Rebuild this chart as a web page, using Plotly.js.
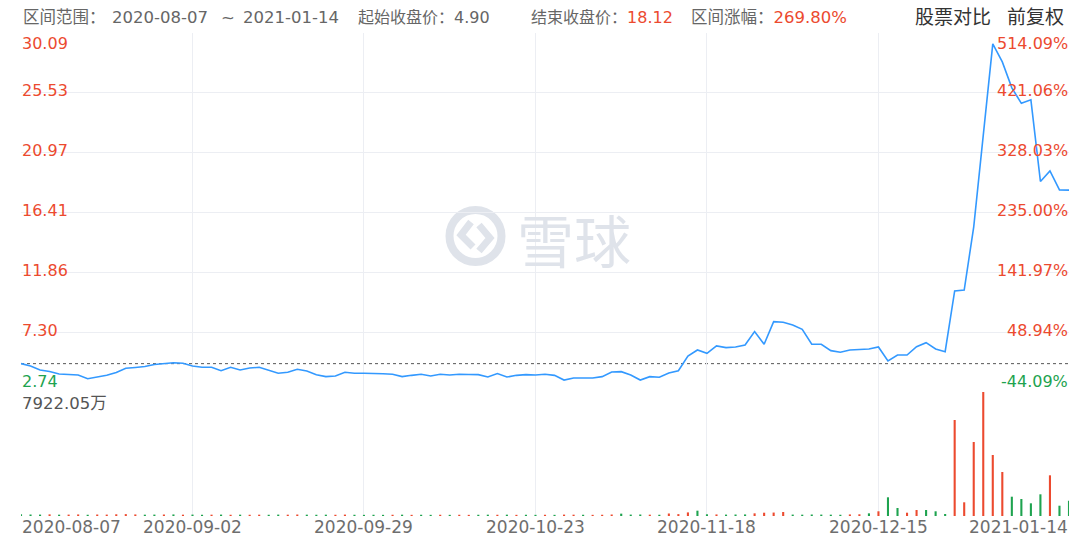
<!DOCTYPE html>
<html><head><meta charset="utf-8">
<script src="https://cdn.plot.ly/plotly-3.0.1.min.js"></script>
<style>html,body{margin:0;padding:0;background:#fff;}#chart{width:1080px;height:548px;}</style>
</head><body><div id="chart"></div>
<script>
const dates = [
'2020-08-07','2020-08-10','2020-08-11','2020-08-12','2020-08-13','2020-08-14','2020-08-17','2020-08-18','2020-08-19','2020-08-20','2020-08-21','2020-08-24','2020-08-25','2020-08-26','2020-08-27','2020-08-28','2020-08-31',
'2020-09-01','2020-09-02','2020-09-03','2020-09-04','2020-09-08','2020-09-09','2020-09-10','2020-09-11','2020-09-14','2020-09-15','2020-09-16','2020-09-17','2020-09-18','2020-09-21','2020-09-22','2020-09-23','2020-09-24','2020-09-25','2020-09-28','2020-09-29','2020-09-30',
'2020-10-01','2020-10-02','2020-10-05','2020-10-06','2020-10-07','2020-10-08','2020-10-09','2020-10-12','2020-10-13','2020-10-14','2020-10-15','2020-10-16','2020-10-19','2020-10-20','2020-10-21','2020-10-22','2020-10-23','2020-10-26','2020-10-27','2020-10-28','2020-10-29','2020-10-30',
'2020-11-02','2020-11-03','2020-11-04','2020-11-05','2020-11-06','2020-11-09','2020-11-10','2020-11-11','2020-11-12','2020-11-13','2020-11-16','2020-11-17','2020-11-18','2020-11-19','2020-11-20','2020-11-23','2020-11-24','2020-11-25','2020-11-27','2020-11-30',
'2020-12-01','2020-12-02','2020-12-03','2020-12-04','2020-12-07','2020-12-08','2020-12-09','2020-12-10','2020-12-11','2020-12-14','2020-12-15','2020-12-16','2020-12-17','2020-12-18','2020-12-21','2020-12-22','2020-12-23','2020-12-24','2020-12-28','2020-12-29','2020-12-30','2020-12-31',
'2021-01-04','2021-01-05','2021-01-06','2021-01-07','2021-01-08','2021-01-11','2021-01-12','2021-01-13','2021-01-14'];

const closePrices = [
4.90,4.72,4.42,4.30,4.11,4.07,4.04,3.75,3.88,4.01,
4.23,4.55,4.61,4.68,4.84,4.91,4.97,4.93,4.72,4.62,
4.62,4.36,4.62,4.42,4.57,4.62,4.42,4.17,4.24,4.47,
4.34,4.06,3.91,3.96,4.24,4.17,4.17,4.17,4.13,4.09,
3.91,4.01,4.09,3.96,4.09,4.04,4.09,4.07,4.06,3.88,
4.14,3.88,4.01,4.06,4.04,4.09,4.01,3.65,3.81,3.81,
3.81,3.91,4.26,4.29,4.04,3.65,3.91,3.86,4.19,4.36,
5.48,5.94,5.69,6.25,6.12,6.17,6.32,7.34,6.38,8.10,
8.05,7.85,7.52,6.38,6.38,5.89,5.77,5.94,6.00,6.02,
6.17,5.10,5.56,5.56,6.19,6.50,6.02,5.81,10.44,10.51,
15.32,22.25,29.26,27.89,25.91,24.73,25.00,18.78,19.58,18.14,
18.12];

// volume, in 万
const volumes = [
110,95,90,105,85,90,100,80,95,90,
110,120,100,85,90,95,100,85,90,80,
85,90,80,85,80,85,80,90,85,95,
85,80,85,80,90,80,75,80,75,80,
85,75,80,75,80,75,80,75,80,85,
80,85,75,80,75,80,75,90,85,80,
75,80,95,150,90,95,85,80,160,120,
230,340,110,100,90,95,100,170,210,220,
255,90,85,95,90,85,80,100,110,170,
300,1195,511,211,383,383,300,128,6134,875,
4728,7922.05,3898,2811,1233,1086,811,1386,2600,658,
978];

// 'r' = red bar, 'g' = green bar
const volDir = [
'g','g','g','r','g','r','r','g','r','r',
'r','r','r','g','g','r','g','r','g','g',
'r','g','r','g','r','r','g','g','r','r',
'g','g','g','r','r','g','g','g','g','r',
'g','r','g','g','r','g','r','r','g','g',
'r','g','r','g','g','r','g','r','r','g',
'r','r','r','g','g','g','r','g','r','r',
'r','g','g','r','g','g','g','r','r','r',
'r','g','g','g','g','g','g','r','r','g',
'r','g','g','r','r','g','g','g','r','r',
'r','r','r','r','g','g','g','g','r','g',
'g'];

const priceTickLabels = ['2.74','7.30','11.86','16.41','20.97','25.53','30.09'];
const pctTickLabels = ['-44.09%','48.94%','141.97%','235.00%','328.03%','421.06%','514.09%'];
const xTickLabels = ['2020-08-07','2020-09-02','2020-09-29','2020-10-23','2020-11-18','2020-12-15','2021-01-14'];
const volMaxLabel = '7922.05万';
const headerRange = '区间范围：';
const headerStart = '起始收盘价：';
const headerEnd = '结束收盘价：';
const headerChg = '区间涨幅：';
const headerRight1 = '股票对比';
const headerRight2 = '前复权';
const watermarkText = '雪球';

// ---- styling / layout ----
const W = 1080, H = 548;
const px = x => x / W;
const py = y => 1 - y / H;
const L = 21, R = 1069, PT = 33, PB = 392, VB = 516;
const RED = '#ec4a2f', GREEN = '#1ea34f', BLUE = '#3399ff', GRID = '#eceef3';
const NUMFONT = '"DejaVu Sans", "Noto Sans CJK SC", sans-serif';
const WM = '#dfe3ea';

const priceTickVals = priceTickLabels.map(Number);
const maxVol = Math.max(...volumes);
const firstClose = closePrices[0];
const lastClose = closePrices[closePrices.length - 1];
const chg = ((lastClose / firstClose - 1) * 100).toFixed(2) + '%';

const traces = [
  {
    type: 'bar', x: dates, y: volumes, xaxis: 'x', yaxis: 'y2',
    marker: {color: volDir.map(d => d === 'r' ? RED : GREEN), line: {width: 0}},
    width: 0.22, hoverinfo: 'skip'
  },
  {
    type: 'scatter', mode: 'lines', x: dates, y: closePrices, xaxis: 'x', yaxis: 'y',
    line: {color: BLUE, width: 1.6}, hoverinfo: 'skip'
  }
];

const annotations = [];
const nT = priceTickLabels.length;
priceTickLabels.forEach((t, k) => {
  const anchor = k === 0 ? 'bottom' : (k === nT - 1 ? 'top' : 'middle');
  const shift = (k === 0 || k === nT - 1) ? 0 : 2;
  const col = k === 0 ? GREEN : RED;
  annotations.push({xref: 'paper', yref: 'y', x: px(L), y: priceTickVals[k], text: t,
    xanchor: 'left', yanchor: anchor, yshift: shift, showarrow: false,
    font: {family: NUMFONT, size: 16, color: col}, borderpad: 0});
  annotations.push({xref: 'paper', yref: 'y', x: px(R), y: priceTickVals[k], text: pctTickLabels[k],
    xanchor: 'right', yanchor: anchor, yshift: shift, showarrow: false,
    font: {family: NUMFONT, size: 16, color: col}, borderpad: 0});
});
annotations.push({xref: 'paper', yref: 'y2', x: px(L), y: maxVol, text: volMaxLabel,
  xanchor: 'left', yanchor: 'top', yshift: -1, showarrow: false,
  font: {family: NUMFONT, size: 16.5, color: '#555'}, borderpad: 0});

xTickLabels.forEach((t, k) => {
  const idx = dates.indexOf(t);
  const anchor = k === 0 ? 'left' : (k === xTickLabels.length - 1 ? 'right' : 'center');
  annotations.push({xref: 'x', yref: 'paper', x: idx, y: py(527), text: t,
    xanchor: anchor, yanchor: 'middle', showarrow: false,
    font: {family: NUMFONT, size: 17, color: '#6e6e6e'}, borderpad: 0});
});

const hdrY = py(17);
const hdrFont = {family: NUMFONT, size: 16.5, color: '#666'};
const hdrFontS = {family: NUMFONT, size: 16, color: '#666'};
const hdr = (x, text, anchor, font) => annotations.push({xref: 'paper', yref: 'paper', x: px(x), y: hdrY,
  xanchor: anchor || 'left', yanchor: 'middle', showarrow: false, text: text, font: font || hdrFont, borderpad: 0});
hdr(22, headerRange);
hdr(111, dates[0]);
hdr(228, '~', 'center');
hdr(340, dates[dates.length - 1], 'right');
hdr(357, headerStart + firstClose.toFixed(2), 'left', hdrFontS);
hdr(530, headerEnd + '<span style="color:' + RED + '">' + lastClose.toFixed(2) + '</span>', 'left', hdrFontS);
hdr(690, headerChg + '<span style="color:' + RED + '">' + chg + '</span>');
hdr(992, headerRight1, 'right', {family: NUMFONT, size: 19, color: '#333'});
hdr(1065, headerRight2, 'right', {family: NUMFONT, size: 19, color: '#333'});

// watermark
annotations.push({xref: 'paper', yref: 'paper', x: px(516), y: py(238), xanchor: 'left', yanchor: 'middle', showarrow: false,
  text: watermarkText, font: {family: '"Noto Sans CJK SC", sans-serif', size: 57, color: WM}, borderpad: 0});

const pp = (pts) => 'M ' + pts.map(p => px(p[0]) + ' ' + py(p[1])).join(' L ');

const shapes = [
  {type: 'line', xref: 'paper', yref: 'y', x0: px(L), x1: px(R), y0: firstClose, y1: firstClose,
   line: {color: '#555', width: 1, dash: '3px,3px'}, layer: 'below'},
  {type: 'circle', xref: 'paper', yref: 'paper', x0: px(449.5), x1: px(501.5), y0: py(262), y1: py(210),
   line: {color: WM, width: 8}, layer: 'below'},
  {type: 'path', xref: 'paper', yref: 'paper', path: pp([[471, 222], [461, 235], [473, 247]]),
   line: {color: WM, width: 7}, layer: 'below'},
  {type: 'path', xref: 'paper', yref: 'paper', path: pp([[479, 225], [490, 238], [479, 251]]),
   line: {color: WM, width: 7}, layer: 'below'}
];

const layout = {
  width: W, height: H,
  margin: {l: 0, r: 0, t: 0, b: 0, pad: 0},
  paper_bgcolor: '#fff', plot_bgcolor: 'rgba(0,0,0,0)',
  showlegend: false, hovermode: false,
  xaxis: {type: 'category', domain: [px(L), px(R)], range: [0, dates.length - 1],
    tickmode: 'array', tickvals: xTickLabels, showticklabels: false, ticks: '',
    showgrid: true, gridcolor: GRID, gridwidth: 1, zeroline: false, showline: false, fixedrange: true,
    anchor: 'y2'},
  yaxis: {domain: [py(PB), py(PT)], range: [priceTickVals[0], priceTickVals[nT - 1]],
    tickmode: 'array', tickvals: priceTickVals, showticklabels: false, ticks: '',
    showgrid: true, gridcolor: GRID, gridwidth: 1, zeroline: false, showline: false, fixedrange: true},
  yaxis2: {domain: [py(VB), py(PB)], range: [0, maxVol],
    showgrid: false, showticklabels: false, zeroline: false, showline: false, fixedrange: true},
  annotations: annotations,
  shapes: shapes
};

Plotly.newPlot('chart', traces, layout, {staticPlot: true, displayModeBar: false});
</script></body></html>
